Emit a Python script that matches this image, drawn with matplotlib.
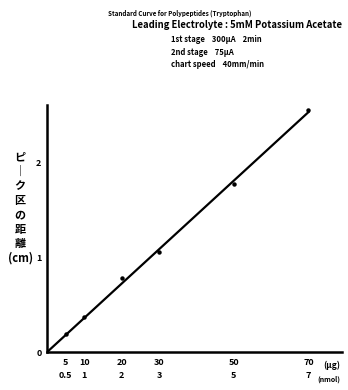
import numpy as np
import matplotlib.pyplot as plt

plt.rcParams['font.family'] = ['Noto Sans CJK JP', 'DejaVu Sans']

# sample amounts (ug / nmol) and measured peak zone length (cm)
amount_ug = [5, 10, 20, 30, 50, 70]
amount_nmol = ["0.5", "1", "2", "3", "5", "7"]
peak_cm = [0.19, 0.37, 0.78, 1.05, 1.77, 2.55]

fig = plt.figure(figsize=(3.48, 3.9), dpi=100)
ax = fig.add_axes([0.135, 0.097, 0.848, 0.633])

# straight line through origin fitted to the points
slope = np.sum(np.array(amount_ug) * np.array(peak_cm)) / np.sum(np.array(amount_ug) ** 2)
xs = np.array([0, amount_ug[-1]])
ax.plot(xs, slope * xs, color='black', lw=1.6)
ax.plot(amount_ug, peak_cm, 'o', color='black', ms=2.2)

ax.set_xlim(0, 79)
ax.set_ylim(0, 2.6)
for s in ['top', 'right']:
    ax.spines[s].set_visible(False)
for s in ['left', 'bottom']:
    ax.spines[s].set_linewidth(1.8)

ax.set_xticks(amount_ug)
ax.set_xticklabels([f"{u}\n{n}" for u, n in zip(amount_ug, amount_nmol)],
                   fontsize=6.5, fontweight='bold', linespacing=1.6)
ax.set_yticks([0, 1, 2])
ax.set_yticklabels(["0", "1", "2"], fontsize=6.5, fontweight='bold')
ax.tick_params(length=0, pad=4)

ax.text(0.995, -0.035, "(μg)", transform=ax.transAxes, fontsize=6, fontweight='bold',
        ha='right', va='top')
ax.text(0.995, -0.095, "(nmol)", transform=ax.transAxes, fontsize=5, fontweight='bold',
        ha='right', va='top')

# vertical japanese axis title
fig.text(0.058, 0.468, "ピ\n｜\nク\n区\nの\n距\n離\n(cm)", fontsize=8, fontweight='bold',
         ha='center', va='center', linespacing=1.15)

# header block
fig.text(0.31, 0.975, "Standard Curve for Polypeptides (Tryptophan)", fontsize=4.5,
         fontweight='bold', va='top')
fig.text(0.38, 0.95, "Leading Electrolyte : 5mM Potassium Acetate", fontsize=6.8,
         fontweight='bold', va='top')
fig.text(0.49, 0.91, "1st stage    300μA    2min", fontsize=5.5, fontweight='bold', va='top')
fig.text(0.49, 0.878, "2nd stage    75μA", fontsize=5.5, fontweight='bold', va='top')
fig.text(0.49, 0.846, "chart speed    40mm/min", fontsize=5.5, fontweight='bold', va='top')

fig.savefig('out.png', dpi=100)
